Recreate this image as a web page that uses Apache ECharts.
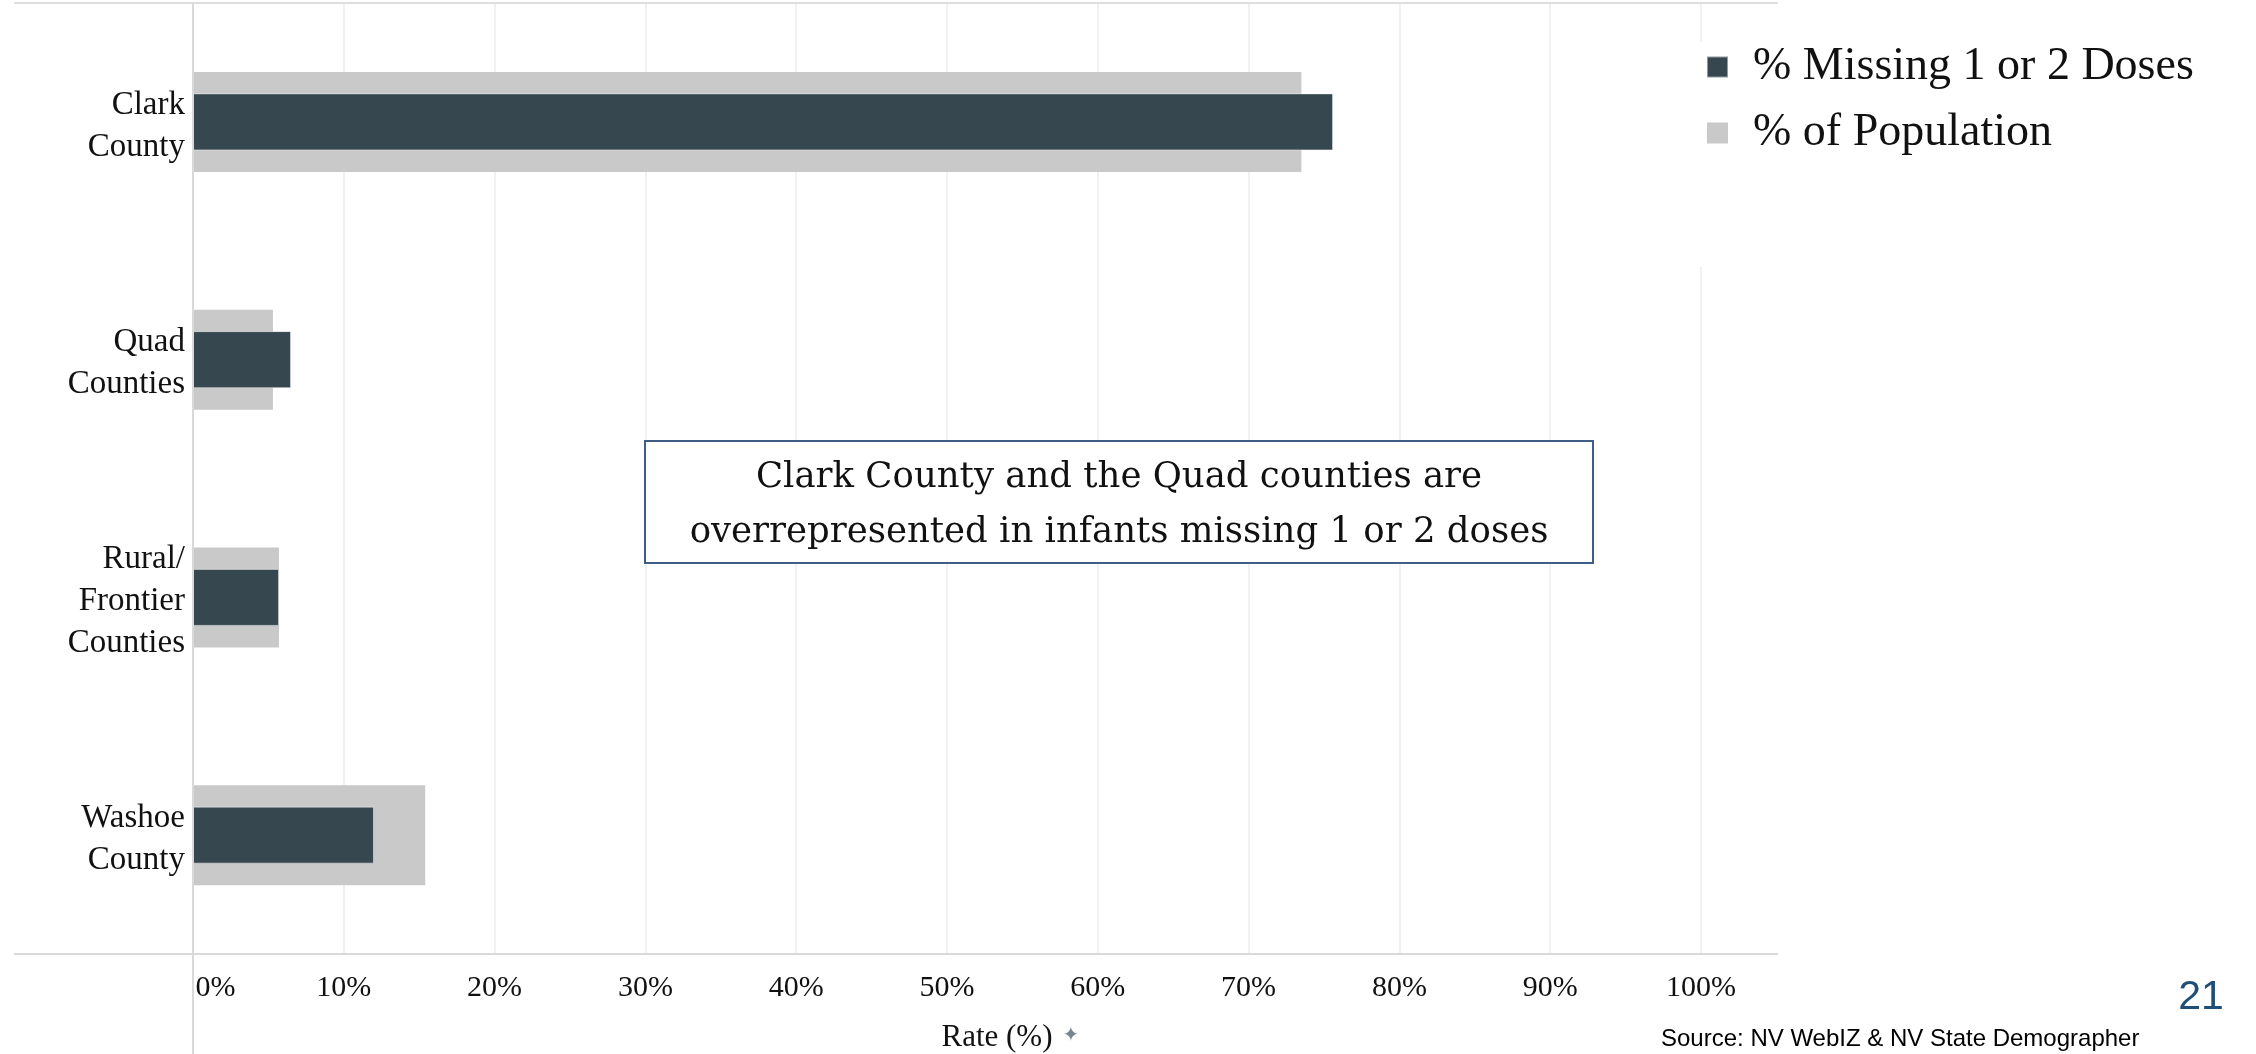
<!DOCTYPE html>
<html>
<head>
<meta charset="utf-8">
<script src="https://cdn.jsdelivr.net/npm/echarts@6/dist/echarts.min.js"></script>
<style>
html,body{margin:0;padding:0;background:#fff;}
#chart{width:2256px;height:1054px;}
</style>
</head>
<body>
<div id="chart"></div>
<script>
// ---- data ----
const categories = ['Clark\nCounty', 'Quad\nCounties', 'Rural/\nFrontier\nCounties', 'Washoe\nCounty'];
const missingDoses = [75.6, 6.5, 5.7, 12.0];      // % Missing 1 or 2 Doses
const population = [73.5, 5.3, 5.7, 15.4];        // % of Population
const seriesNames = ['% Missing 1 or 2 Doses', '% of Population'];
const axisTitle = 'Rate (%)';
const annotation = 'Clark County and the Quad counties are\noverrepresented in infants missing 1 or 2 doses';
const sourceText = 'Source: NV WebIZ & NV State Demographer';
const pageNumber = '21';

const SERIF = '"Liberation Serif", "Times New Roman", serif';
const DARK = '#37474f';
const GREY = '#c9c9c9';

const chart = echarts.init(document.getElementById('chart'), null, {renderer: 'canvas'});

const catAxisBase = {
  type: 'category',
  data: categories,
  inverse: true,
  axisLine: {show: false},
  axisTick: {show: false},
  splitLine: {show: false}
};

chart.setOption({
  animation: false,
  backgroundColor: '#ffffff',
  grid: {left: 193, right: 555, top: 3, bottom: 100, containLabel: false, outerBoundsMode: 'none'},
  legend: {
    data: seriesNames,
    orient: 'vertical',
    left: 1688,
    top: 42,
    backgroundColor: '#ffffff',
    padding: [2, 40, 111, 18],
    itemWidth: 21,
    itemHeight: 21,
    itemGap: 20,
    icon: 'rect',
    selectedMode: false,
    textStyle: {fontFamily: SERIF, fontSize: 46, color: '#111', padding: [0, 0, 0, 20]}
  },
  xAxis: {
    type: 'value',
    min: 0,
    max: 100,
    interval: 10,
    axisLine: {show: false},
    axisTick: {show: false},
    splitLine: {show: true, lineStyle: {color: '#ececec', width: 1.5}},
    axisLabel: {
      margin: 19,
      fontFamily: SERIF,
      fontSize: 30,
      color: '#111',
      formatter: function (v) { return v === 0 ? '\u00a0\u00a0\u00a0\u00a0\u00a0\u00a00%' : v + '%'; }
    },
    name: axisTitle,
    nameLocation: 'middle',
    nameGap: 68,
    nameTextStyle: {fontFamily: SERIF, fontSize: 31, color: '#111', padding: [0, 0, 0, 100]}
  },
  yAxis: [
    Object.assign({}, catAxisBase, {
      axisLabel: {
        fontFamily: SERIF, fontSize: 33, color: '#111', lineHeight: 42, margin: 8, align: 'right',
        formatter: function (v) { return '{s| }\n' + v; },
        rich: {s: {fontSize: 1, lineHeight: 8}}
      }
    }),
    Object.assign({}, catAxisBase, {show: false, axisLabel: {show: false}})
  ],
  series: [
    {
      name: seriesNames[1],
      type: 'bar',
      yAxisIndex: 0,
      data: population,
      barWidth: 100,
      z: 2,
      itemStyle: {color: GREY}
    },
    {
      name: seriesNames[0],
      type: 'bar',
      yAxisIndex: 1,
      data: missingDoses,
      barWidth: 57,
      z: 3,
      itemStyle: {color: DARK, borderColor: 'rgba(255,255,255,0.45)', borderWidth: 1}
    }
  ],
  graphic: [
    {type: 'line', z: 5, shape: {x1: 14, y1: 3, x2: 1778, y2: 3}, style: {stroke: '#dedede', lineWidth: 2}},
    {type: 'line', z: 5, shape: {x1: 14, y1: 954, x2: 1778, y2: 954}, style: {stroke: '#d9d9d9', lineWidth: 2}},
    {type: 'line', z: 5, shape: {x1: 193, y1: 3, x2: 193, y2: 1054}, style: {stroke: '#d9d9d9', lineWidth: 2}},
    {type: 'rect', z: 10, shape: {x: 645, y: 441, width: 948, height: 122},
      style: {fill: '#ffffff', stroke: '#3f5f86', lineWidth: 2}},
    {type: 'text', z: 11, style: {text: annotation, x: 1119, y: 505, align: 'center', verticalAlign: 'middle',
      fontFamily: '"DejaVu Serif", serif', fontSize: 35.5, lineHeight: 55, fill: '#111'}},
    {type: 'text', z: 11, style: {text: '\u2726', x: 1071, y: 1036, align: 'center', verticalAlign: 'middle',
      fontFamily: '"DejaVu Sans", sans-serif', fontSize: 20, fill: '#7b8590'}},
    {type: 'text', z: 11, style: {text: sourceText, x: 1661, y: 1039, align: 'left', verticalAlign: 'middle',
      fontFamily: '"Liberation Sans", Arial, sans-serif', fontSize: 24, fill: '#000'}},
    {type: 'text', z: 11, style: {text: pageNumber, x: 2201, y: 998, align: 'center', verticalAlign: 'middle',
      fontFamily: '"Liberation Sans", Arial, sans-serif', fontSize: 41, fill: '#1f4e79'}}
  ]
});
</script>
</body>
</html>
